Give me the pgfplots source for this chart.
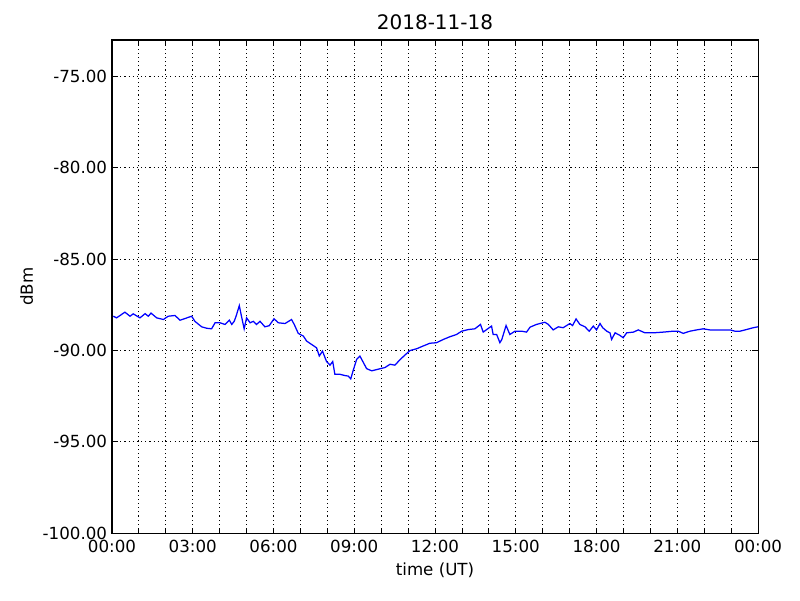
\documentclass[border=0pt]{standalone}
\usepackage{fontspec}
\setmainfont{DejaVu Sans}
\usepackage{pgfplots}
\pgfplotsset{compat=1.18}
\begin{document}
\begin{tikzpicture}
  \begin{axis}[
      scale only axis,
      width=465pt, height=355pt,
      xmin=0, xmax=24, ymin=-100, ymax=-73,
      xtick={0,1,...,24},
      xticklabels={00:00,,,03:00,,,06:00,,,09:00,,,12:00,,,15:00,,,18:00,,,21:00,,,00:00},
      ytick={-100,-95,...,-75},
      yticklabel style={/pgf/number format/.cd, fixed, fixed zerofill, precision=2, assume math mode=true},
      xticklabel style={yshift=-1.5pt},
      ticklabel style={font=\fontsize{12}{14}\selectfont},
      tick style={black, line width=0.6pt},
      major tick length=4pt,
      tick align=inside,
      xtick pos=both, ytick pos=both,
      axis line style={black, line width=0.75pt},
      grid=major,
      major grid style={black, line width=0.6pt, dash pattern=on 0.8pt off 2.2pt},
      title={2018-11-18},
      title style={font=\fontsize{14.4}{17}\selectfont, yshift=-2pt},
      xlabel={time (UT)},
      ylabel={dBm},
      label style={font=\fontsize{12}{14}\selectfont},
    ]
    % received signal level over the day
    \addplot[blue, line width=0.9pt] coordinates {
      (0.05,-88.12) (0.17,-88.21) (0.48,-87.90) (0.67,-88.12) (0.79,-87.99)
      (1.04,-88.21) (1.23,-87.98) (1.35,-88.12) (1.45,-87.95) (1.66,-88.21)
      (1.91,-88.30) (2.09,-88.12) (2.34,-88.08) (2.53,-88.34) (2.96,-88.12)
      (3.08,-88.40) (3.33,-88.70) (3.52,-88.78) (3.70,-88.81) (3.83,-88.48)
      (4.01,-88.48) (4.20,-88.57) (4.36,-88.34) (4.45,-88.57) (4.54,-88.40)
      (4.61,-88.12) (4.73,-87.54) (4.81,-88.12) (4.91,-88.81) (5.00,-88.21)
      (5.13,-88.48) (5.25,-88.40) (5.37,-88.57) (5.50,-88.40) (5.68,-88.70)
      (5.84,-88.64) (6.02,-88.26) (6.18,-88.48) (6.43,-88.52) (6.67,-88.30)
      (6.77,-88.57) (6.92,-89.06) (7.11,-89.21) (7.23,-89.48) (7.42,-89.67)
      (7.60,-89.85) (7.70,-90.30) (7.82,-90.03) (7.97,-90.60) (8.10,-90.80)
      (8.20,-90.60) (8.28,-91.30) (8.47,-91.30) (8.66,-91.37) (8.78,-91.40)
      (8.87,-91.55) (8.97,-91.04) (9.09,-90.48) (9.21,-90.30) (9.34,-90.66)
      (9.46,-90.99) (9.65,-91.11) (9.89,-91.02) (10.14,-90.93) (10.33,-90.75)
      (10.51,-90.80) (10.70,-90.50) (10.88,-90.25) (11.07,-90.00) (11.32,-89.90)
      (11.56,-89.75) (11.81,-89.60) (12.06,-89.57) (12.31,-89.39) (12.56,-89.24)
      (12.80,-89.12) (12.99,-88.94) (13.24,-88.85) (13.48,-88.81) (13.69,-88.57)
      (13.79,-88.99) (13.92,-88.85) (14.10,-88.66) (14.16,-89.12) (14.29,-89.12)
      (14.41,-89.57) (14.48,-89.40) (14.64,-88.63) (14.78,-89.12) (14.97,-88.94)
      (15.22,-88.94) (15.40,-88.99) (15.53,-88.72) (15.77,-88.57) (16.08,-88.45)
      (16.21,-88.57) (16.39,-88.87) (16.58,-88.70) (16.76,-88.75) (17.01,-88.52)
      (17.11,-88.63) (17.24,-88.27) (17.38,-88.57) (17.57,-88.70) (17.73,-88.94)
      (17.88,-88.66) (18.00,-88.87) (18.13,-88.52) (18.23,-88.75) (18.38,-88.94)
      (18.50,-89.03) (18.56,-89.39) (18.69,-89.03) (18.87,-89.17) (18.99,-89.30)
      (19.12,-89.03) (19.37,-88.99) (19.55,-88.87) (19.80,-89.03) (20.11,-89.03)
      (20.48,-88.99) (20.85,-88.94) (21.04,-88.94) (21.22,-89.06) (21.47,-88.94)
      (21.72,-88.87) (21.96,-88.81) (22.21,-88.87) (22.46,-88.87) (22.71,-88.87)
      (22.96,-88.87) (23.14,-88.94) (23.33,-88.94) (23.57,-88.85) (23.82,-88.75)
      (24.00,-88.70)
    };
  \end{axis}
  \path (current axis.south west) ++(-80.6pt,-48.2pt) coordinate (bbsw);
  \path (current axis.north east) ++(30.2pt,28.8pt) coordinate (bbne);
  \useasboundingbox (bbsw) rectangle (bbne);
\end{tikzpicture}
\end{document}
